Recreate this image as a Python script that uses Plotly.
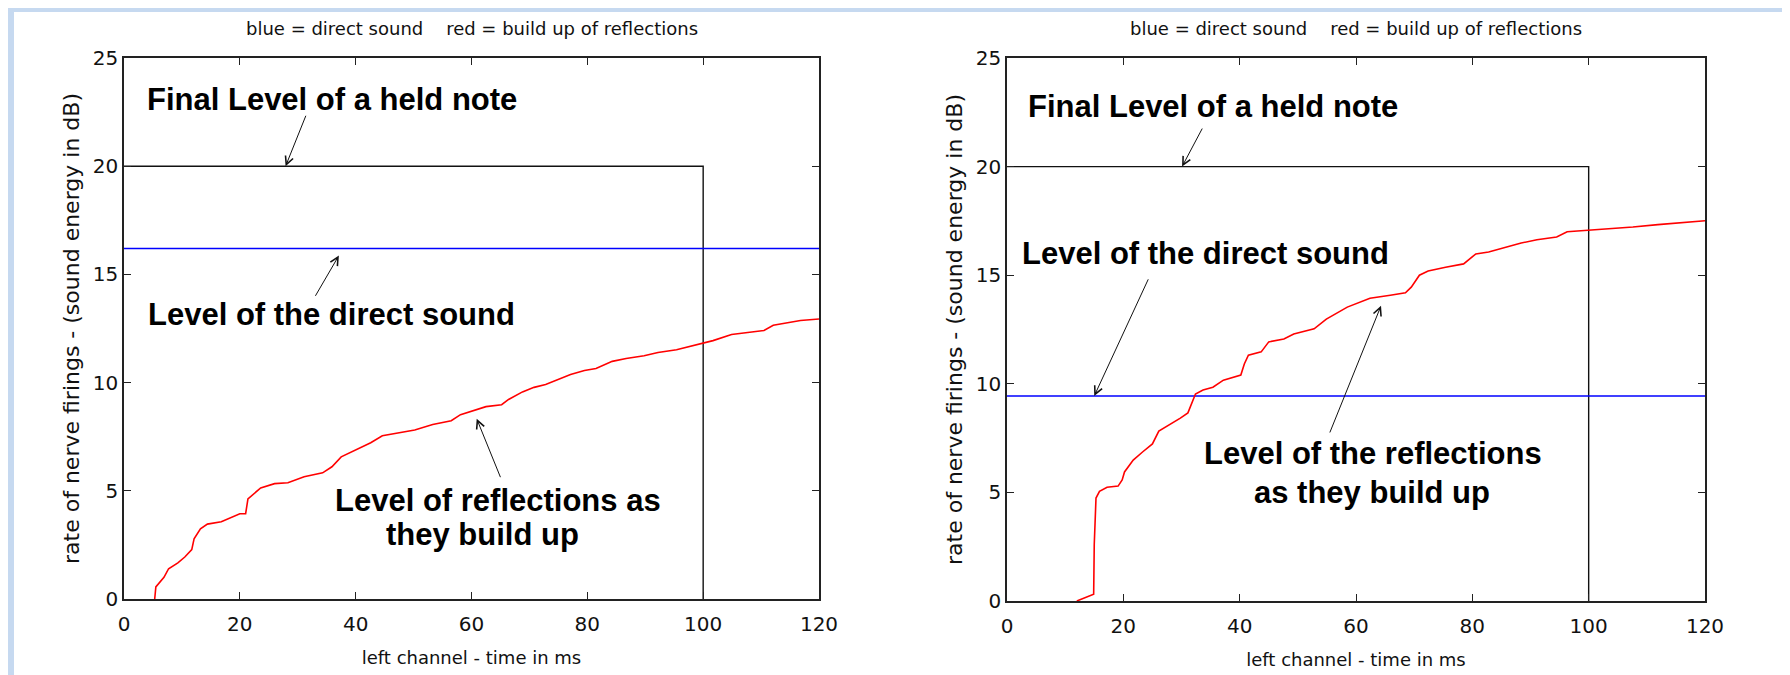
import plotly.graph_objects as go

W, H = 1790, 675

# ---------------- data ----------------
final_x = [0, 100, 100]
final_y = [20, 20, 0]
time_range = [0, 120]

left_direct_level = 16.2
left_refl_t = [5.3, 5.5, 6.9, 7.7, 9.3, 10.5, 11.7, 12.1, 13.2, 14.4, 16.8, 18.8, 20.0, 21.0, 21.4,
               23.6, 26.0, 28.3, 31.1, 34.3, 35.9, 37.5, 39.8, 42.6, 44.6, 47.0, 50.2, 53.3, 56.5,
               58.1, 61.3, 62.5, 65.2, 66.4, 68.8, 70.8, 72.8, 74.8, 77.1, 79.5, 81.5, 84.3, 86.7,
               89.8, 92.2, 95.4, 98.6, 101.7, 104.9, 110.5, 112.1, 116.8, 120.0]
left_refl_v = [0.0, 0.56, 1.0, 1.4, 1.67, 1.94, 2.28, 2.78, 3.24, 3.46, 3.57, 3.8, 3.94, 3.94, 4.63,
               5.13, 5.33, 5.37, 5.65, 5.83, 6.11, 6.57, 6.85, 7.22, 7.54, 7.65, 7.81, 8.06, 8.24,
               8.52, 8.80, 8.89, 8.98, 9.22, 9.57, 9.78, 9.91, 10.13, 10.37, 10.56, 10.65, 10.98, 11.11,
               11.24, 11.39, 11.52, 11.72, 11.94, 12.22, 12.41, 12.65, 12.87, 12.94]

right_direct_level = 9.44
right_refl_t = [12.0, 13.3, 14.9, 15.0, 15.3, 15.9, 17.2, 19.1, 19.8, 20.2, 21.7, 23.3, 25.0, 26.1,
                27.6, 29.8, 31.1, 31.8, 32.4, 33.7, 35.4, 37.2, 40.2, 40.8, 41.5, 43.7, 45.0, 47.6,
                49.3, 52.8, 54.9, 58.5, 62.4, 65.9, 68.5, 69.5, 70.9, 72.4, 75.4, 78.5, 80.6, 82.8,
                85.8, 88.4, 91.1, 94.5, 96.3, 100.2, 103.2, 107.6, 111.9, 116.3, 120.0]
right_refl_v = [0.0, 0.13, 0.31, 2.6, 4.74, 5.05, 5.24, 5.29, 5.57, 5.94, 6.49, 6.86, 7.23, 7.82,
                8.06, 8.42, 8.66, 9.16, 9.53, 9.71, 9.84, 10.17, 10.40, 10.91, 11.32, 11.47, 11.93, 12.06,
                12.29, 12.53, 12.98, 13.53, 13.94, 14.08, 14.19, 14.45, 15.0, 15.19, 15.37, 15.52, 15.98, 16.07,
                16.29, 16.48, 16.63, 16.76, 17.0, 17.07, 17.14, 17.22, 17.33, 17.42, 17.51]

x_ticks = [0, 20, 40, 60, 80, 100, 120]
y_ticks = [0, 5, 10, 15, 20, 25]

title_text = "blue = direct sound&nbsp;&nbsp;&nbsp;&nbsp;red = build up of reflections"
x_title = "left channel - time in ms"
y_title = "rate of nerve firings - (sound energy in dB)"

# labels: (text, x, y) and arrows: (tail_x, tail_y, head_x, head_y)
left_labels = [("Final Level of a held note", 35.9, 23.1),
               ("Level of the direct sound", 35.8, 13.15),
               ("Level of reflections as", 64.6, 4.54),
               ("they build up", 61.9, 2.96)]
left_arrows = [(31.5, 22.4, 27.9, 20.0),
               (32.9, 13.94, 37.1, 15.87),
               (65.1, 5.56, 60.9, 8.33)]
right_labels = [("Final Level of a held note", 35.4, 22.75),
                ("Level of the direct sound", 34.1, 15.98),
                ("Level of the reflections", 63.0, 6.77),
                ("as they build up", 62.8, 5.01)]
right_arrows = [(33.7, 21.82, 30.1, 20.0),
                (24.4, 14.88, 15.0, 9.44),
                (55.4, 7.69, 64.3, 13.59)]

# ---------------- figure ----------------
fig = go.Figure()

def add_panel(xa, ya, refl_t, refl_v, direct):
    fig.add_trace(go.Scatter(x=final_x, y=final_y, mode="lines", line=dict(color="#111111", width=1.4),
                             xaxis=xa, yaxis=ya, showlegend=False, hoverinfo="skip"))
    fig.add_trace(go.Scatter(x=time_range, y=[direct, direct], mode="lines", line=dict(color="#0000ff", width=1.6),
                             xaxis=xa, yaxis=ya, showlegend=False, hoverinfo="skip"))
    fig.add_trace(go.Scatter(x=refl_t, y=refl_v, mode="lines", line=dict(color="#ff0000", width=1.6),
                             xaxis=xa, yaxis=ya, showlegend=False, hoverinfo="skip"))

add_panel("x", "y", left_refl_t, left_refl_v, left_direct_level)
add_panel("x2", "y2", right_refl_t, right_refl_v, right_direct_level)

tick_font = dict(family="DejaVu Sans", size=20, color="#111111")
title_font = dict(family="DejaVu Sans", size=18, color="#111111")
ytitle_font = dict(family="DejaVu Sans", size=22, color="#111111")
bold_font = dict(family="Liberation Sans", size=31, color="#000000")

def px_x(p):
    return p / W

def px_y(p):
    return 1 - p / H

axis_common = dict(showline=True, linecolor="#222222", linewidth=1.5, mirror="ticks",
                   ticks="inside", ticklen=7, tickwidth=1.2, tickcolor="#222222",
                   showgrid=False, zeroline=False, tickfont=tick_font, automargin=False)

fig.update_layout(
    width=W, height=H,
    margin=dict(l=0, r=0, t=0, b=0),
    paper_bgcolor="#c6d9f0",
    plot_bgcolor="white",
    xaxis=dict(domain=[px_x(116), px_x(811)], range=time_range, tickvals=x_ticks, anchor="y",
               ticklabelstandoff=6,
               title=dict(text=x_title, font=title_font, standoff=17), **axis_common),
    yaxis=dict(domain=[px_y(591), px_y(50)], range=[0, 25], tickvals=y_ticks, anchor="x",
               title=dict(text=y_title, font=ytitle_font, standoff=7), **axis_common),
    xaxis2=dict(domain=[px_x(999), px_x(1697)], range=time_range, tickvals=x_ticks, anchor="y2",
                ticklabelstandoff=6,
                title=dict(text=x_title, font=title_font, standoff=17), **axis_common),
    yaxis2=dict(domain=[px_y(593), px_y(50)], range=[0, 25], tickvals=y_ticks, anchor="x2",
                title=dict(text=y_title, font=ytitle_font, standoff=7), **axis_common),
)

# white page area inside the light-blue frame
fig.add_shape(type="rect", xref="paper", yref="paper", x0=px_x(6), x1=px_x(1786), y0=0, y1=px_y(4),
              fillcolor="white", line=dict(width=0), layer="below")

annotations = []
for xd in ["x domain", "x2 domain"]:
    annotations.append(dict(text=title_text, xref=xd, x=0.5, yref="paper", y=px_y(21), xanchor="center",
                            yanchor="middle", showarrow=False, font=title_font))

for labels, arrows, xr, yr in [(left_labels, left_arrows, "x", "y"), (right_labels, right_arrows, "x2", "y2")]:
    for text, x, y in labels:
        annotations.append(dict(text="<b>%s</b>" % text, x=x, y=y, xref=xr, yref=yr, showarrow=False,
                                xanchor="center", yanchor="middle", font=bold_font))
    for tx, ty, hx, hy in arrows:
        annotations.append(dict(text="", x=hx, y=hy, ax=tx, ay=ty, xref=xr, yref=yr, axref=xr, ayref=yr,
                                showarrow=True, arrowhead=5, arrowsize=1.6, arrowwidth=1, arrowcolor="#111111"))

fig.update_layout(annotations=annotations)

fig.write_html("out.html")
